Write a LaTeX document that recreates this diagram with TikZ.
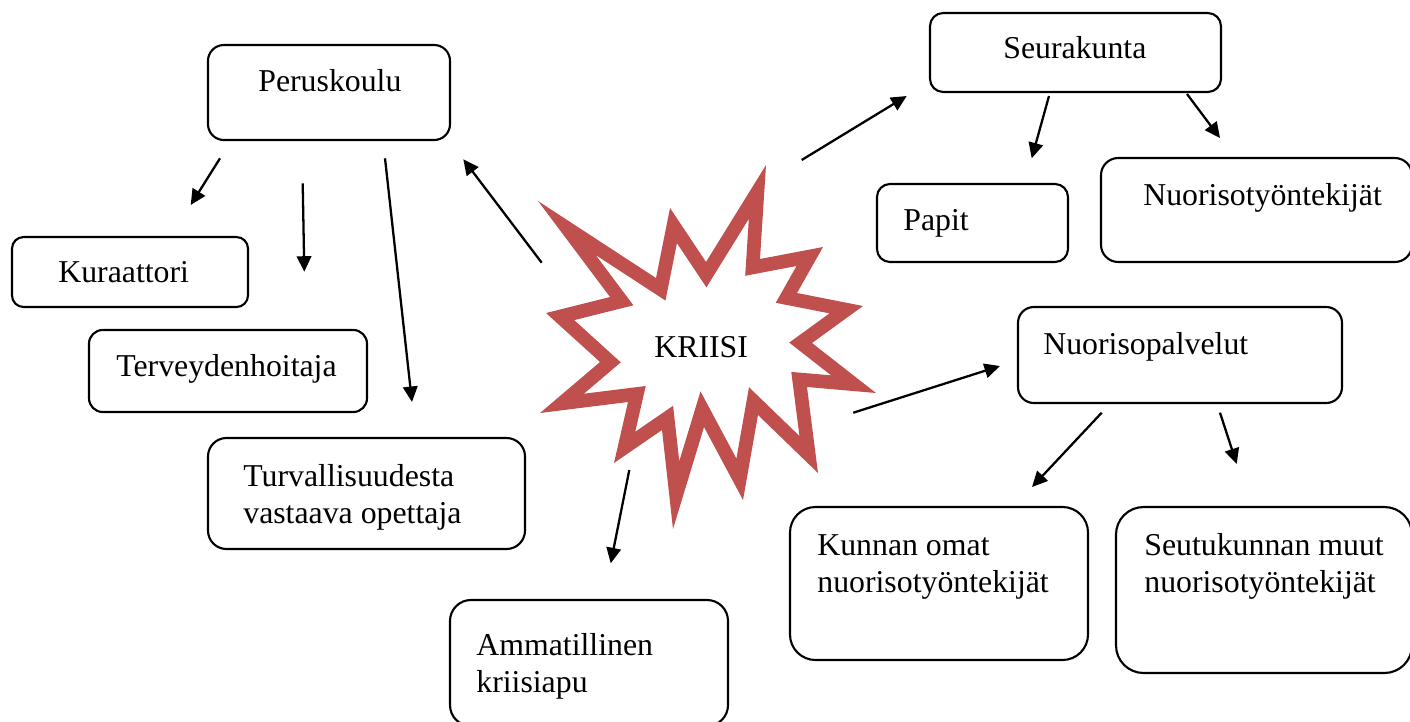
\documentclass[tikz,border=0pt]{standalone}
\usepackage{fontspec}
\setmainfont{Liberation Serif}
\usetikzlibrary{arrows.meta,fit}
\definecolor{starred}{RGB}{192,80,77}
\begin{document}
\begin{tikzpicture}[x=0.02cm,y=-0.02cm,
  boxst/.style={draw=black, line width=1.2pt, inner sep=0pt},
  lbl/.style={inner sep=0pt, anchor=base west, font=\fontsize{18.1pt}{21.5pt}\selectfont},
  arr/.style={line width=1.3pt, -{Triangle[length=0.31cm,width=0.29cm]}}]
\useasboundingbox (0,0) rectangle (1410,721);
\clip (0,0) rectangle (1410,721);

% star: band of uniform width drawn inside its outer outline
\def\staroutline{(766,165) -- (760,259) -- (823,247) -- (797,293) -- (863,306) -- (812,343) --
  (876,393) -- (807,387) -- (818,473) -- (758,415) -- (743,500) -- (704,427) --
  (673,529) -- (662,430) -- (614,463) -- (628,402) -- (540,413) -- (600,362) --
  (546,313) -- (610,297) -- (538,201) -- (656,278) -- (670,208) -- (706,262) -- cycle}
\begin{scope}
  \clip \staroutline;
  \draw[starred, line width=15.6pt, line join=miter, miter limit=20] \staroutline;
\end{scope}
\node[lbl] (kriisi) at (654,357) {KRIISI};

% boxes
\node[boxst, rounded corners=9pt,   fit={(208,45) (450,140)}]   (peru) {};
\node[boxst, rounded corners=6.6pt, fit={(12,237) (248,307)}]   (kura) {};
\node[boxst, rounded corners=7.8pt, fit={(89,330) (367,412)}]   (terv) {};
\node[boxst, rounded corners=10.5pt,fit={(208,438) (525,549)}]  (turv) {};
\node[boxst, rounded corners=11.9pt,fit={(450,600) (728,726)}]  (amma) {};
\node[boxst, rounded corners=7.5pt, fit={(930,13) (1221,92)}]   (seur) {};
\node[boxst, rounded corners=7.4pt, fit={(877,184) (1068,262)}] (papit) {};
\node[boxst, rounded corners=9.8pt, fit={(1101,158) (1412,262)}] (nuor) {};
\node[boxst, rounded corners=9pt,   fit={(1018,307) (1342,403)}] (npal) {};
\node[boxst, rounded corners=14.5pt,fit={(790,507) (1088,660)}] (kunn) {};
\node[boxst, rounded corners=15.7pt,fit={(1116,507) (1412,673)}] (seut) {};

% labels
\node[lbl] (peru-t) at (258,91) {Peruskoulu};
\node[lbl] (kura-t) at (58,282) {Kuraattori};
\node[lbl] (terv-t) at (116,376) {Terveydenhoitaja};
\node[lbl] (turv-a) at (243,486) {Turvallisuudesta};
\node[lbl] (turv-b) at (243,523) {vastaava opettaja};
\node[lbl] (amma-a) at (476,655) {Ammatillinen};
\node[lbl] (amma-b) at (476,692) {kriisiapu};
\node[lbl] (seur-t) at (1003,58) {Seurakunta};
\node[lbl] (papit-t) at (903,230) {Papit};
\node[lbl] (nuor-t) at (1143,205) {Nuorisotyöntekijät};
\node[lbl] (npal-t) at (1043,354) {Nuorisopalvelut};
\node[lbl] (kunn-a) at (817,555) {Kunnan omat};
\node[lbl] (kunn-b) at (817,592) {nuorisotyöntekijät};
\node[lbl] (seut-a) at (1144,555) {Seutukunnan muut};
\node[lbl] (seut-b) at (1144,592) {nuorisotyöntekijät};

% arrow end points
\coordinate (s1) at (541.7,262.7); \coordinate (e1) at (463.3,159.3);
\coordinate (s2) at (801.7,160);   \coordinate (e2) at (906.7,96);
\coordinate (s3) at (1049,96);     \coordinate (e3) at (1031.7,158.3);
\coordinate (s4) at (1187,94);     \coordinate (e4) at (1220,138);
\coordinate (s5) at (853.3,412.7); \coordinate (e5) at (1000,366);
\coordinate (s6) at (1101.7,412.7);\coordinate (e6) at (1032,487);
\coordinate (s7) at (1220,412.7);  \coordinate (e7) at (1236.7,464);
\coordinate (s8) at (629.3,470);   \coordinate (e8) at (610.7,563.3);
\coordinate (s9) at (220,158.3);   \coordinate (e9) at (190.7,205);
\coordinate (s10) at (302.7,183.3);\coordinate (e10) at (304.3,271.7);
\coordinate (s11) at (385,158.3);  \coordinate (e11) at (412,402);

\draw[arr] (s1) -- (e1);
\draw[arr] (s2) -- (e2);
\draw[arr] (s3) -- (e3);
\draw[arr] (s4) -- (e4);
\draw[arr] (s5) -- (e5);
\draw[arr] (s6) -- (e6);
\draw[arr] (s7) -- (e7);
\draw[arr] (s8) -- (e8);
\draw[arr] (s9) -- (e9);
\draw[arr] (s10) -- (e10);
\draw[arr] (s11) -- (e11);
\end{tikzpicture}
\end{document}
